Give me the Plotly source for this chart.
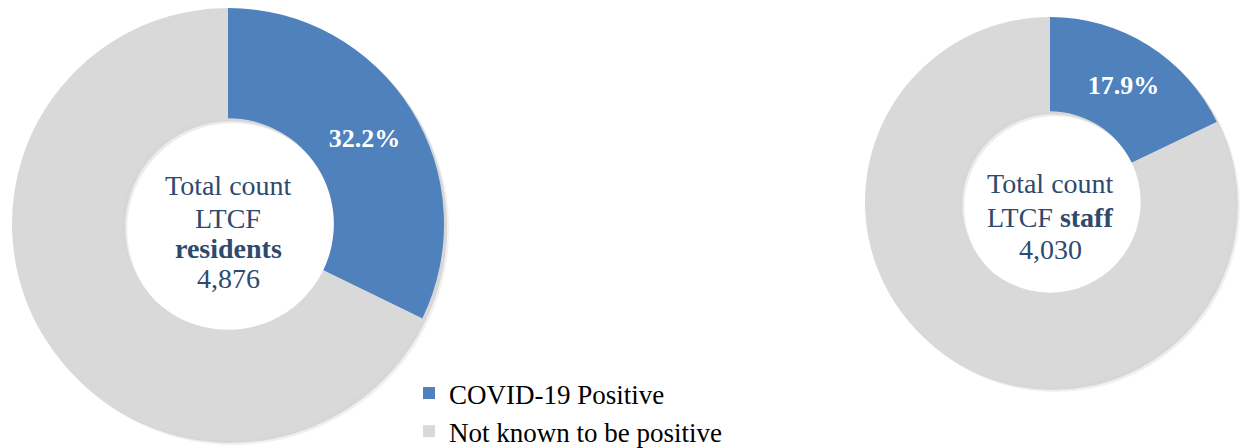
import plotly.graph_objects as go

W, H = 1249, 448
OFF = 8  # page body margin offset

categories = ["COVID-19 Positive", "Not known to be positive"]
residents_values = [1570, 3306]
staff_values = [721, 3309]
residents_lines = ["Total count", "LTCF", "<b>residents</b>", "4,876"]
staff_lines = ["Total count", "LTCF <b>staff</b>", "4,030"]

colors = ["#4F81BD", "#D9D9D9"]
text_color = "#2E4A6E"
FONT = "Liberation Serif"
HOLE = 0.49

def px(x, y):
    return (x - OFF) / W, 1 - (y - OFF) / H

def dom(cx, cy, r):
    x0, y1 = px(cx - r, cy - r)
    x1, y0 = px(cx + r, cy + r)
    return dict(x=[x0, x1], y=[y0, y1])

# screen pixel geometry
L = dict(cx=228, cy=224, r=216)
R = dict(cx=1050, cy=202, r=185)

fig = go.Figure()

def circle(cx, cy, r, color):
    x0, y1 = px(cx - r, cy - r)
    x1, y0 = px(cx + r, cy + r)
    fig.add_shape(type="circle", xref="paper", yref="paper", x0=x0, x1=x1, y0=y0, y1=y1,
                  fillcolor=color, line=dict(width=0), layer="below")

# soft drop shadow
for g in (L, R):
    rh = g["r"] * HOLE
    circle(g["cx"] + 5, g["cy"] + 5, g["r"], "rgba(0,0,0,0.06)")
    circle(g["cx"] + 3, g["cy"] + 3, g["r"], "rgba(0,0,0,0.10)")
    circle(g["cx"] + 3, g["cy"] + 3, rh, "rgba(255,255,255,0.55)")
    circle(g["cx"] + 5, g["cy"] + 5, rh, "white")

for vals, g, show in [(residents_values, L, True), (staff_values, R, False)]:
    fig.add_trace(go.Pie(
        labels=categories, values=vals, hole=HOLE, sort=False, direction="clockwise",
        rotation=0, marker=dict(colors=colors, line=dict(width=0)),
        texttemplate=["%{percent:.1%}", ""], textposition="inside",
        insidetextorientation="horizontal",
        textfont=dict(family=FONT, size=26, color="white", weight="bold"),
        domain=dom(g["cx"], g["cy"], g["r"]), showlegend=show,
        hoverinfo="label+value+percent",
    ))

def add_center(g, lines, ys):
    for t, y in zip(lines, ys):
        x, yy = px(g["cx"], y)
        fig.add_annotation(x=x, y=yy, xref="paper", yref="paper",
                           text=t, showarrow=False, xanchor="center", yanchor="middle",
                           font=dict(family=FONT, size=28, color=text_color), align="center")

add_center(L, residents_lines, [185, 218, 248, 278])
add_center(R, staff_lines, [184, 217, 249])

fig.update_layout(
    width=W, height=H, margin=dict(l=0, r=0, t=0, b=0),
    paper_bgcolor="white", plot_bgcolor="white",
    legend=dict(x=401 / W, y=0, xanchor="left", yanchor="bottom",
                font=dict(family=FONT, size=27, color="black"),
                bgcolor="rgba(0,0,0,0)", itemclick=False),
)
fig.write_html("out.html")
